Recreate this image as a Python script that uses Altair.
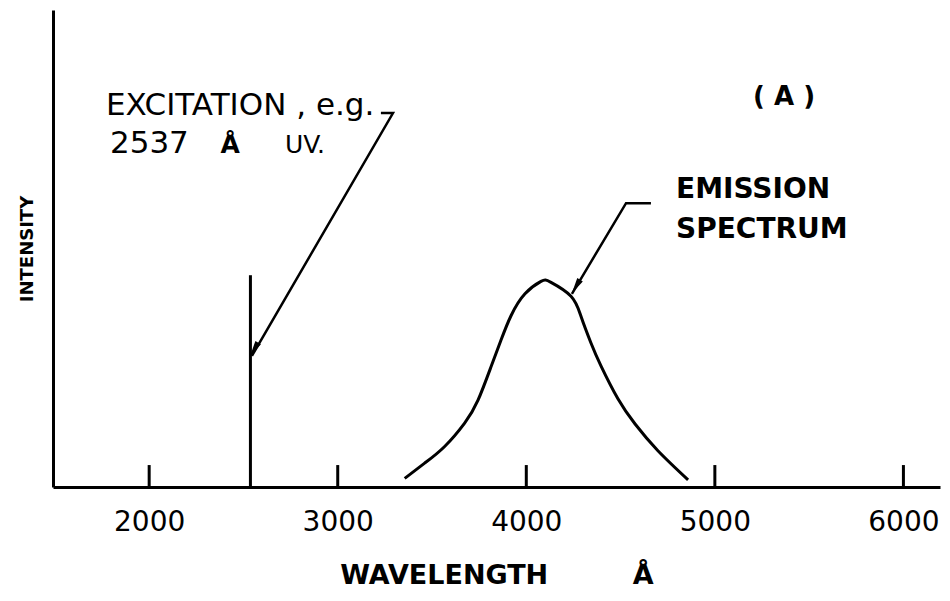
import altair as alt
import pandas as pd

# ---- data ----
tick_values = [2000, 3000, 4000, 5000, 6000]

excitation_wl = 2537
excitation_top = 0.444

emission_wl = [3355, 3461, 3567, 3673, 3744, 3813, 3866, 3919, 3993, 4078,
               4131, 4237, 4290, 4343, 4396, 4486, 4577, 4698, 4858]
emission_int = [0.018, 0.050, 0.085, 0.134, 0.182, 0.252, 0.308, 0.359, 0.405, 0.431,
                0.429, 0.400, 0.358, 0.302, 0.254, 0.185, 0.132, 0.076, 0.015]

# arrow polylines (leader lines), in data coordinates
arrow_group = ["exc", "exc", "exc", "emi", "emi", "emi"]
arrow_order = [0, 1, 2, 0, 1, 2]
arrow_wl = [3229, 3293, 2545, 4661, 4529, 4242]
arrow_int = [0.784, 0.784, 0.275, 0.595, 0.595, 0.405]

head_wl = [2556, 4263]
head_int = [0.288, 0.420]

# annotation texts
exc_text = ["EXCITATION , e.g.", "2537"]
exc_wl = [1771, 1792]
exc_int = [0.780, 0.700]

ang_text = ["Å"]
ang_wl = [2429]
ang_int = [0.700]

uv_text = ["UV."]
uv_wl = [2720]
uv_int = [0.700]

panel_text = ["( A )"]
panel_wl = [5367]
panel_int = [0.801]

emi_text = ["EMISSION", "SPECTRUM"]
emi_wl = [4794, 4794]
emi_int = [0.606, 0.522]

# ---- helpers ----
FONT = "DejaVu Sans"
xscale = alt.Scale(domain=[1490, 6194], nice=False, zero=False)
yscale = alt.Scale(domain=[0, 1], nice=False, zero=True)
nb = "\u00a0"

xaxis = alt.Axis(
    values=tick_values, ticks=False, grid=False, format="d",
    domainColor="black", domainWidth=3,
    labelFont=FONT, labelFontSize=28, labelColor="black", labelPadding=21,
    title="WAVELENGTH" + nb * 9 + "Å", titleFont=FONT, titleFontSize=27,
    titleFontWeight="bold", titleColor="black", titlePadding=26,
)
yaxis = alt.Axis(
    labels=False, ticks=False, grid=False,
    domainColor="black", domainWidth=3,
    title="INTENSITY", titleFont=FONT, titleFontSize=18, titleFontWeight="bold",
    titleColor="black", titlePadding=17,
)


def X(f, **kw):
    return alt.X(f, type="quantitative", scale=xscale, axis=xaxis, **kw)


def Y(f, **kw):
    return alt.Y(f, type="quantitative", scale=yscale, axis=yaxis, **kw)


emission_df = pd.DataFrame({"w": emission_wl, "i": emission_int})
exc_df = pd.DataFrame({"w": [excitation_wl], "i0": [0.0], "i1": [excitation_top]})
tick_df = pd.DataFrame({"w": tick_values, "i0": [0.0] * len(tick_values),
                        "i1": [0.046] * len(tick_values)})
arrow_df = pd.DataFrame({"g": arrow_group, "o": arrow_order, "w": arrow_wl, "i": arrow_int})
head_df = pd.DataFrame({"w": head_wl, "i": head_int})

base_emission = alt.Chart(emission_df).mark_line(
    color="black", strokeWidth=3, interpolate="natural"
).encode(x=X("w"), y=Y("i"))

ticks = alt.Chart(tick_df).mark_rule(color="black", strokeWidth=3).encode(
    x=X("w"), y=Y("i0"), y2="i1"
)

exc_line = alt.Chart(exc_df).mark_rule(color="black", strokeWidth=3).encode(
    x=X("w"), y=Y("i0"), y2="i1"
)

arrows = alt.Chart(arrow_df).mark_line(color="black", strokeWidth=2.5).encode(
    x=X("w"), y=Y("i"), detail="g:N", order="o:Q"
)

heads = alt.Chart(head_df).mark_point(
    shape="M0,-1L0.4,1L-0.4,1Z", filled=True, color="black", size=260,
    angle=211, opacity=1
).encode(x=X("w"), y=Y("i"))


def text_layer(texts, ws, ints, size, weight="normal", align="left"):
    df = pd.DataFrame({"t": texts, "w": ws, "i": ints})
    return alt.Chart(df).mark_text(
        font=FONT, fontSize=size, fontWeight=weight, align=align,
        baseline="alphabetic", color="black"
    ).encode(x=X("w"), y=Y("i"), text="t:N")


t_exc = text_layer(exc_text, exc_wl, exc_int, 31)
t_ang = text_layer(ang_text, ang_wl, ang_int, 25, "bold", "center")
t_uv = text_layer(uv_text, uv_wl, uv_int, 25)
t_panel = text_layer(panel_text, panel_wl, panel_int, 26, "bold", "center")
t_emi = text_layer(emi_text, emi_wl, emi_int, 28, "bold")

chart = alt.layer(
    base_emission, ticks, exc_line, arrows, heads,
    t_exc, t_ang, t_uv, t_panel, t_emi
).properties(
    width=887, height=477,
    background="white",
    autosize=alt.AutoSizeParams(type="none"),
    padding={"left": 45, "top": 2, "right": 2, "bottom": 104},
).configure_view(strokeWidth=0, stroke="transparent")

chart.save("out.html", embed_options={"renderer": "svg", "actions": False})
